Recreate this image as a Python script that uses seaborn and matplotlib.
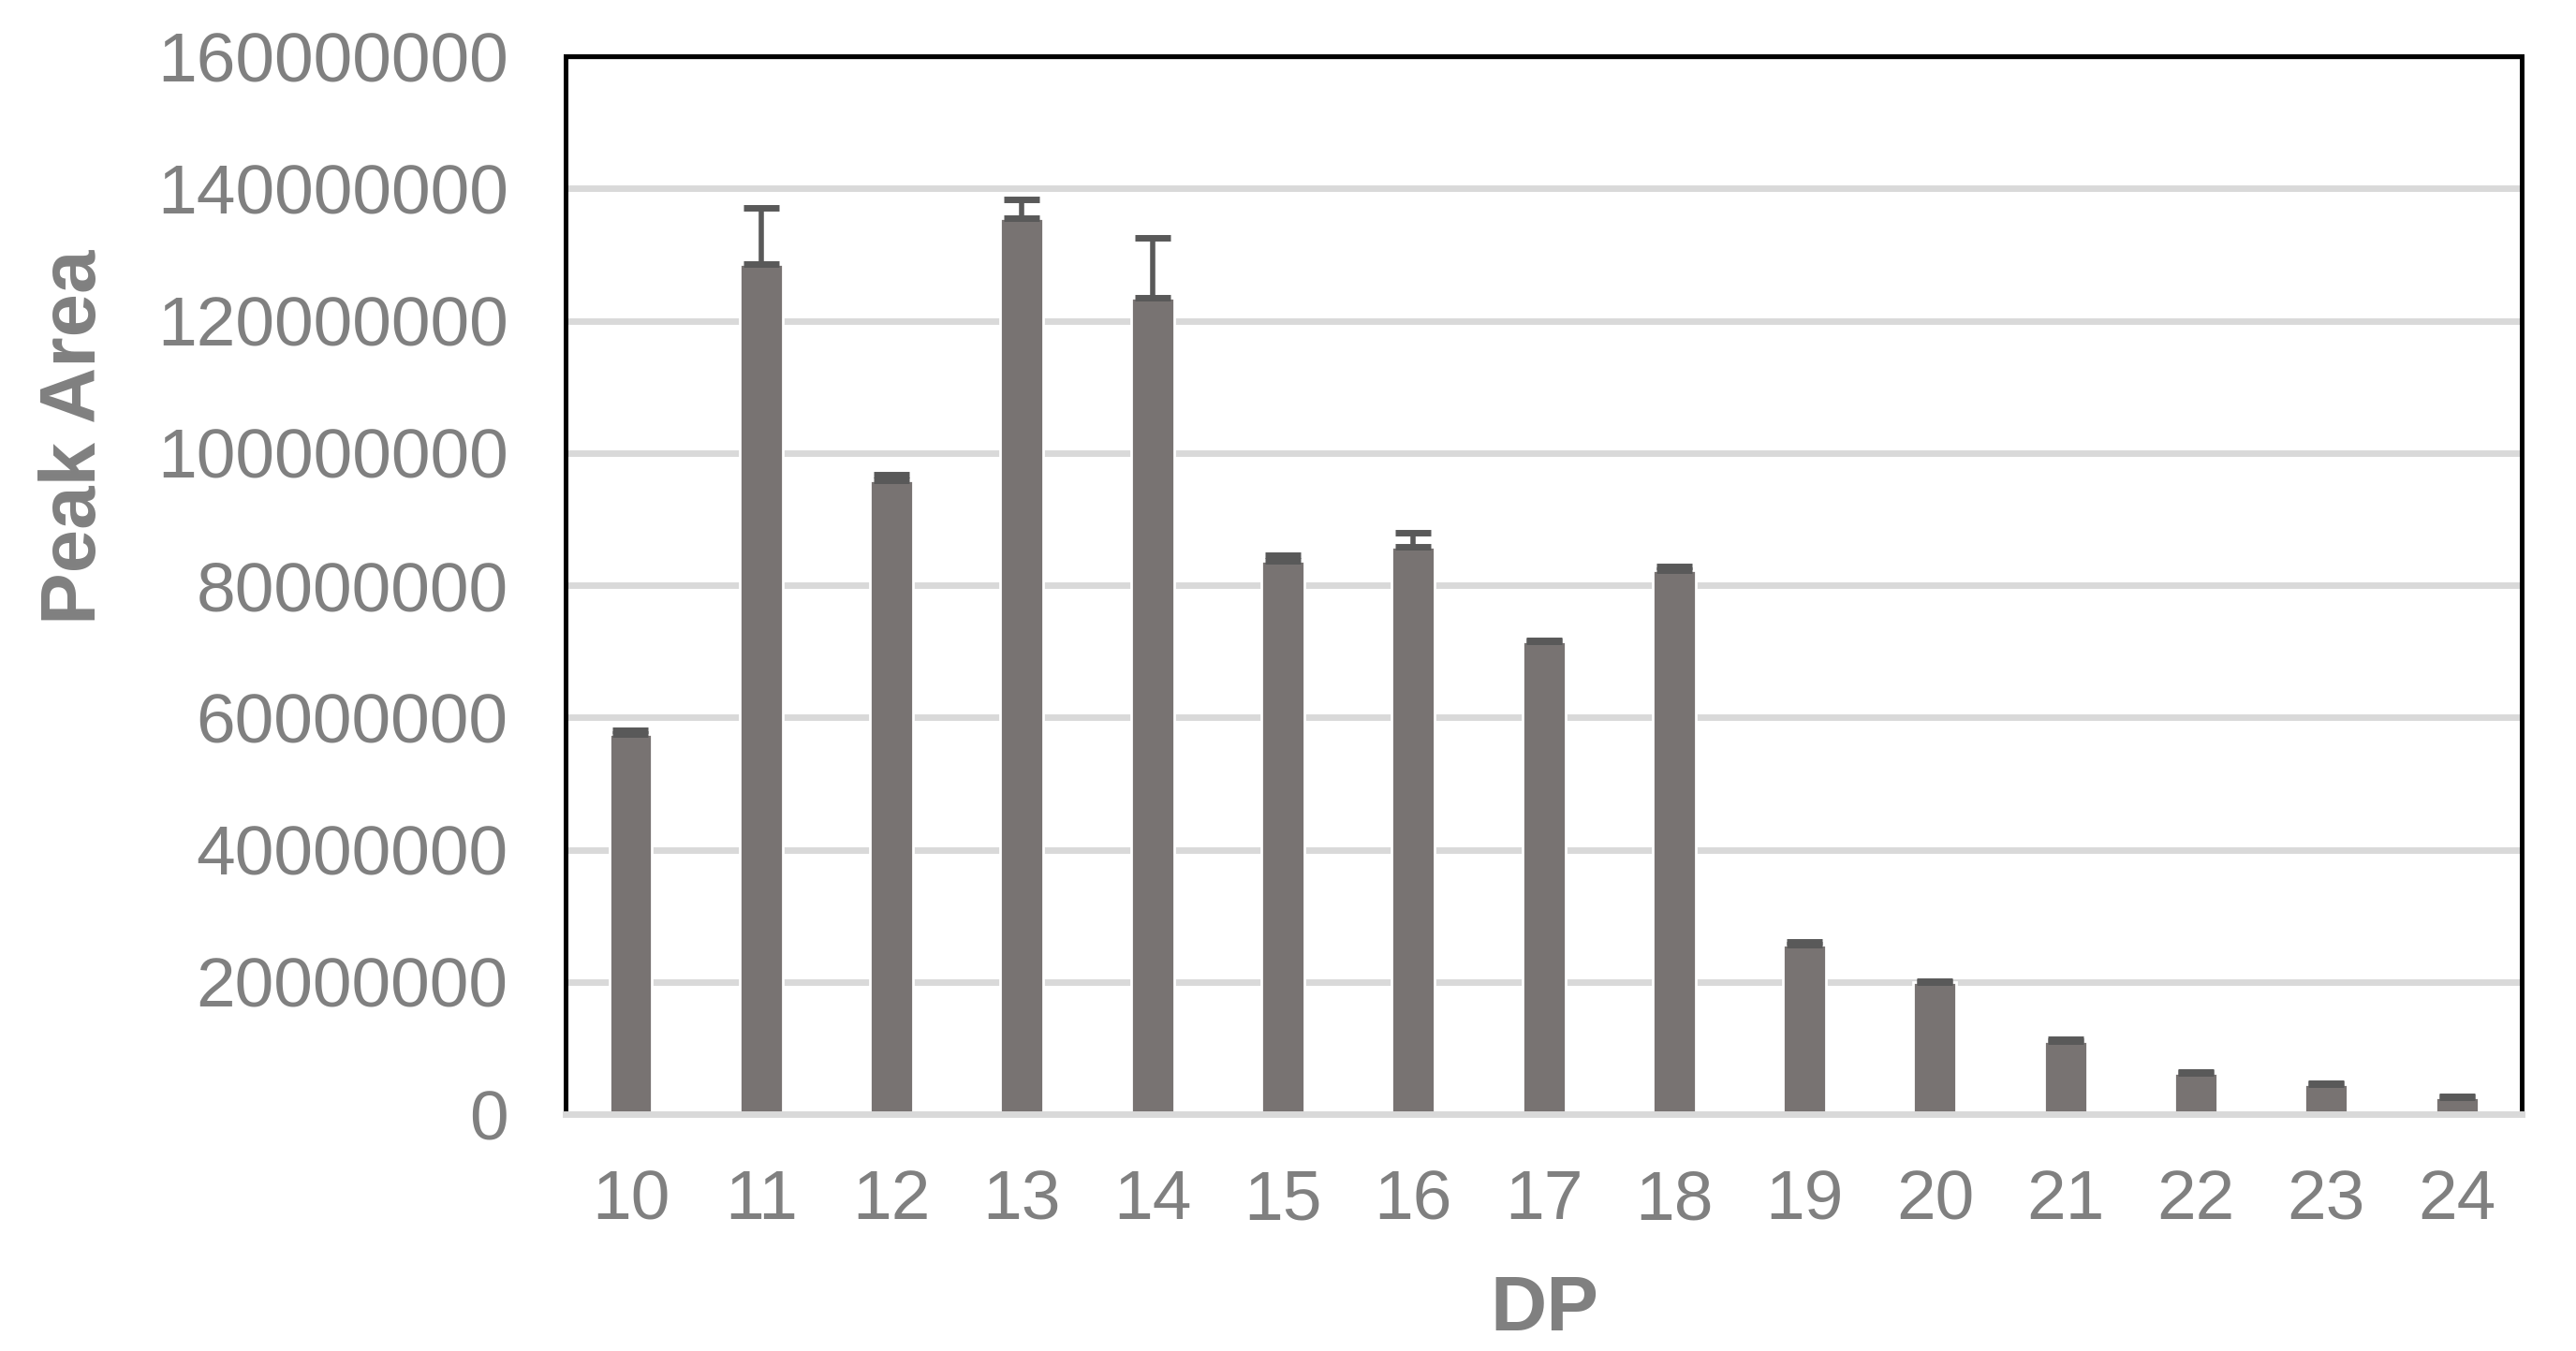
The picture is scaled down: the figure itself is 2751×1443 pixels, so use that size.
import matplotlib

matplotlib.use("Agg")
import matplotlib.pyplot as plt
import numpy as np
import pandas as pd
import seaborn as sns

# Data
dp = ["10", "11", "12", "13", "14", "15", "16", "17", "18", "19", "20", "21", "22", "23", "24"]
peak_area = [
    57.5e6, 128.6e6, 95.9e6, 135.5e6, 123.5e6, 83.7e6, 85.8e6, 71.5e6,
    82.2e6, 25.7e6, 19.9e6, 11.1e6, 6.2e6, 4.5e6, 2.5e6,
]
peak_err = [
    0.5e6, 8.4e6, 0.8e6, 2.9e6, 9.1e6, 0.8e6, 2.1e6, 0.2e6,
    0.6e6, 0.3e6, 0.2e6, 0.2e6, 0.2e6, 0.2e6, 0.2e6,
]
y_ticks = [0, 20e6, 40e6, 60e6, 80e6, 100e6, 120e6, 140e6, 160e6]

BAR_COLOR = "#787372"
ERR_COLOR = "#595959"
GRID_COLOR = "#D9D9D9"
TEXT_COLOR = "#808080"

sns.set_style("white")
plt.rcParams["font.family"] = ["Liberation Sans", "DejaVu Sans"]

df = pd.DataFrame({"DP": dp, "Peak Area": peak_area})

fig = plt.figure(figsize=(13.755, 7.215), dpi=200)
ax = fig.add_axes([0.2195, 0.1753, 0.7595, 0.7831])

sns.barplot(data=df, x="DP", y="Peak Area", color=BAR_COLOR, width=0.33,
            saturation=1, errorbar=None, ax=ax, zorder=2)

# Excel-style plus-only error bars
x_pos = np.arange(len(dp))
ax.errorbar(x_pos, peak_area, yerr=[np.zeros(len(dp)), peak_err], fmt="none",
            ecolor=ERR_COLOR, elinewidth=2.0, capsize=7, capthick=2.5, zorder=3)

ax.set_ylim(0, 160e6)
ax.set_xlim(-0.5, len(dp) - 0.5)
ax.set_yticks(y_ticks)
ax.set_yticklabels([f"{int(v)}" for v in y_ticks])
ax.yaxis.grid(True, color=GRID_COLOR, linewidth=2.5, zorder=0)
ax.set_axisbelow(True)

for side in ["left", "top", "right"]:
    ax.spines[side].set_color("black")
    ax.spines[side].set_linewidth(1.8)
ax.spines["bottom"].set_color(GRID_COLOR)
ax.spines["bottom"].set_linewidth(2.5)

ax.tick_params(axis="y", length=0, pad=22, labelsize=27, labelcolor=TEXT_COLOR)
ax.tick_params(axis="x", length=0, pad=21, labelsize=27, labelcolor=TEXT_COLOR)

ax.set_ylabel("Peak Area", fontsize=30, fontweight="bold", color=TEXT_COLOR)
ax.set_xlabel("DP", fontsize=30, fontweight="bold", color=TEXT_COLOR)
ax.yaxis.set_label_coords(-0.232, 0.640)
ax.xaxis.set_label_coords(0.5005, -0.150)

fig.savefig("out.png", dpi=200)
